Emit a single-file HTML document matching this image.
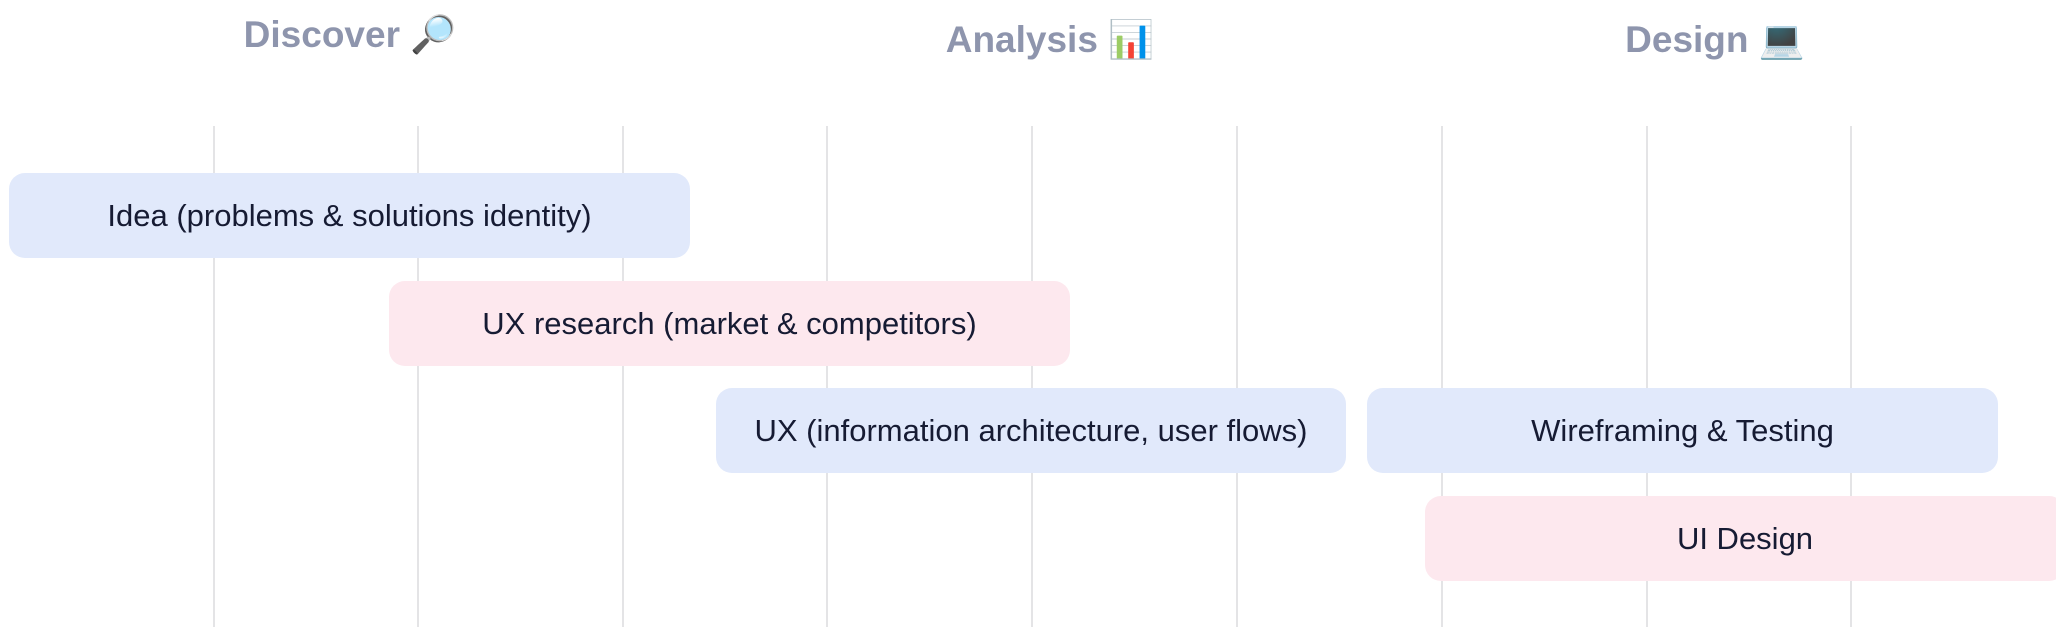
<!DOCTYPE html>
<html><head><meta charset="utf-8"><style>
body{margin:0;width:2056px;height:632px;background:#fff;position:relative;overflow:hidden;font-family:"Liberation Sans",sans-serif}
.v{position:absolute;top:126px;height:501px;width:2px;background:#e4e4e6}
.b{position:absolute;height:85px;border-radius:16px;display:flex;align-items:center;justify-content:center;font-size:31px;color:#161b33}
.bl{background:#e1e9fb}.pk{background:#fde8ee}
.h{position:absolute;font-size:37px;font-weight:bold;color:#8e95ad;transform:translateX(-50%);white-space:nowrap}
</style></head><body>
<div class="h" style="left:350px;top:14px">Discover 🔎</div>
<div class="h" style="left:1050px;top:19px">Analysis 📊</div>
<div class="h" style="left:1715px;top:19px">Design 💻</div>
<div class="v" style="left:213px"></div><div class="v" style="left:417px"></div><div class="v" style="left:622px"></div>
<div class="v" style="left:826px"></div><div class="v" style="left:1031px"></div><div class="v" style="left:1236px"></div>
<div class="v" style="left:1441px"></div><div class="v" style="left:1646px"></div><div class="v" style="left:1850px"></div>
<div class="b bl" style="left:9px;top:173px;width:681px">Idea (problems &amp; solutions identity)</div>
<div class="b pk" style="left:389px;top:281px;width:681px">UX research (market &amp; competitors)</div>
<div class="b bl" style="left:716px;top:388px;width:630px">UX (information architecture, user flows)</div>
<div class="b bl" style="left:1367px;top:388px;width:631px">Wireframing &amp; Testing</div>
<div class="b pk" style="left:1425px;top:496px;width:640px">UI Design</div>
</body></html>
